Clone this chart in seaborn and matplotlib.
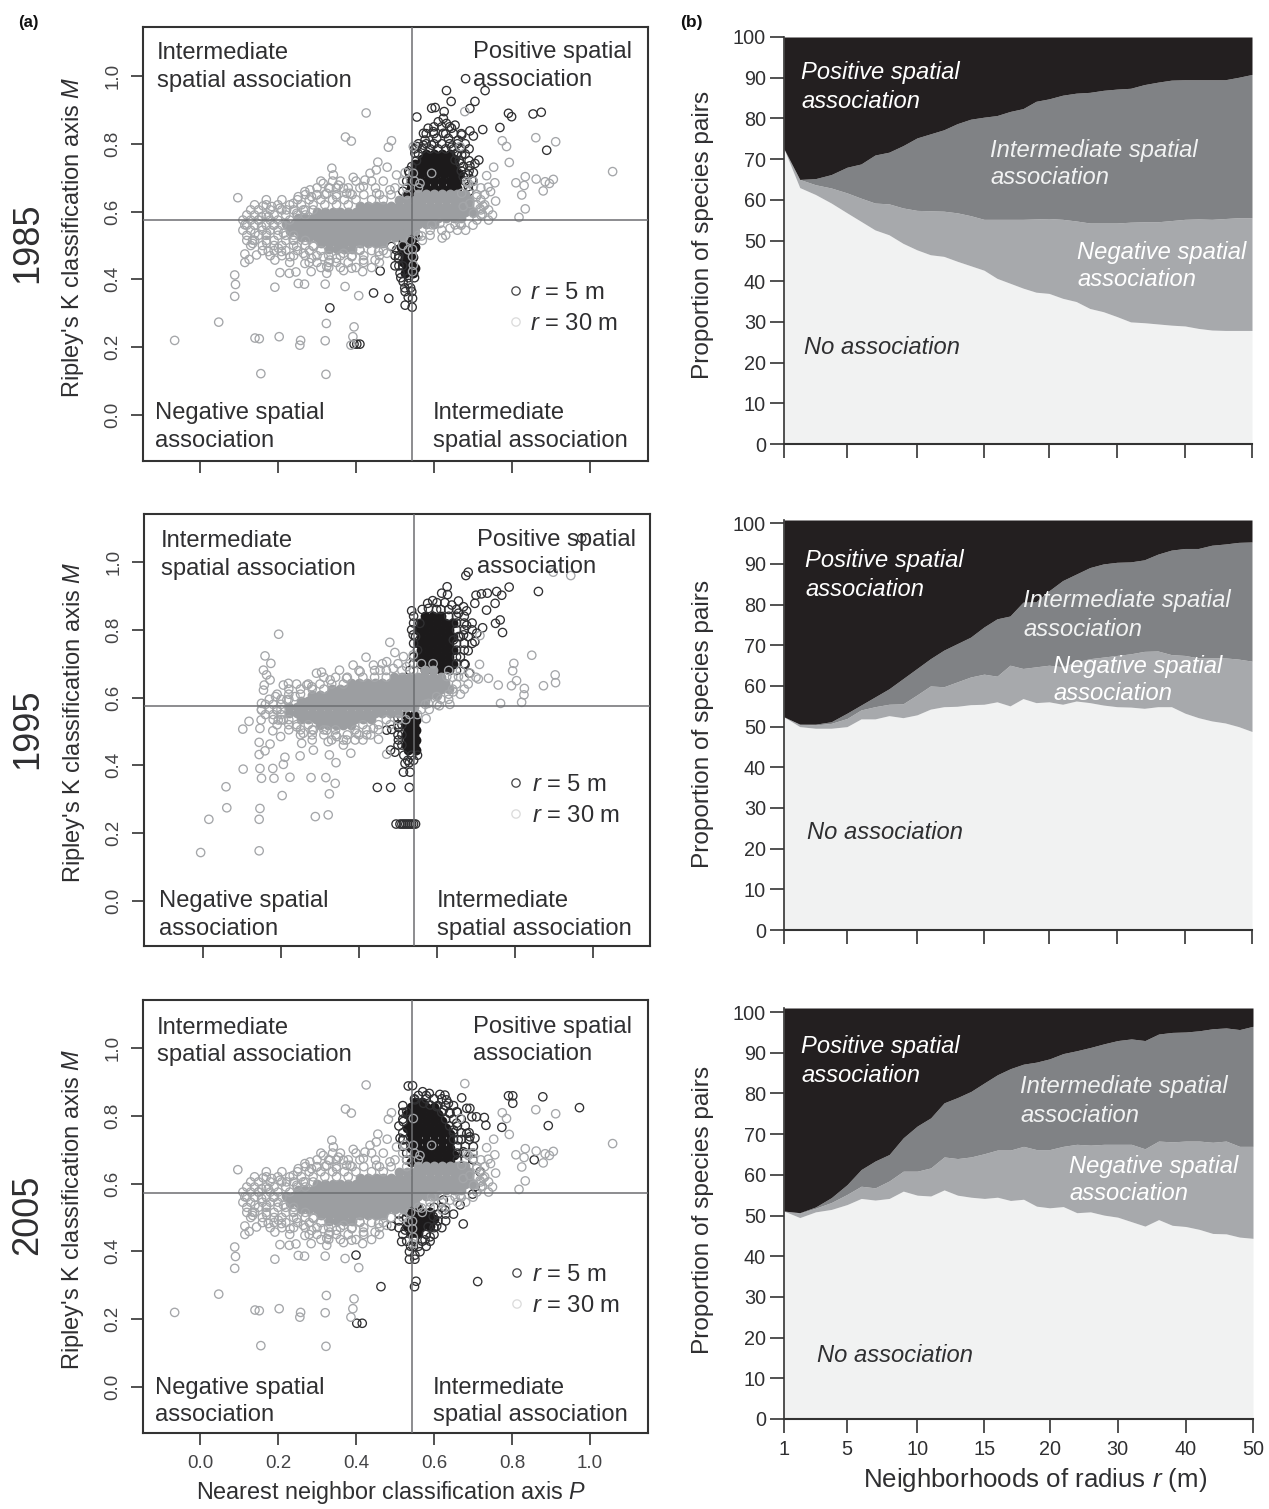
import numpy as np
import pandas as pd
import seaborn as sns
import matplotlib
matplotlib.use("Agg")
import matplotlib.pyplot as plt

# ---------- panel (b): band limits ----------
radius = [1, 2, 3, 4, 5, 6, 7, 8, 9, 10, 11, 12, 13, 14, 15, 16, 17, 18, 19, 20,
          22, 24, 26, 28, 30, 32, 34, 36, 38, 40, 42, 44, 46, 48, 50]
radius_ticks = [1, 5, 10, 15, 20, 30, 40, 50]

none_1985 = [72.5, 63, 61.3, 59.2, 56.8, 54.7, 52.6, 51.4, 49.3, 47.7, 46.5, 46.1, 44.9, 43.8, 42.7, 40.7, 39.5, 38.3, 37.3, 37,
             35.8, 35, 33.3, 32.5, 31.3, 30, 29.8, 29.5, 29.2, 29, 28.4, 28, 27.9, 27.9, 27.9]
neg_1985 = [72.5, 65, 63.7, 62.9, 61.7, 60.4, 59.2, 59, 58, 57.4, 57.3, 57.2, 56.8, 56.1, 55.2, 55.2, 55.2, 55.2, 55.3, 55.4,
            55.2, 54.8, 54.3, 54.3, 54.3, 54.5, 54.6, 54.6, 54.9, 55.2, 55.3, 55.2, 55.4, 55.6, 55.6]
inter_1985 = [72.5, 65, 65.2, 66.2, 68, 68.8, 71, 71.7, 73.3, 75.2, 76.2, 77.2, 78.7, 79.8, 80.3, 80.7, 81.7, 82.4, 84.2, 84.8,
              85.7, 86.2, 86.4, 86.9, 87.2, 87.4, 88.3, 88.9, 89.4, 89.5, 89.5, 89.5, 89.5, 90.1, 90.8]

none_1995 = [52.4, 50, 49.6, 49.6, 50, 51.9, 51.9, 52.7, 52.2, 52.9, 54.3, 54.9, 55, 55.4, 55.5, 56.1, 55.1, 56.9, 55.9, 56.1,
             55.5, 56.3, 55.9, 55.3, 54.9, 54.8, 54.5, 54.9, 54.9, 53.3, 52.2, 51.4, 50.9, 50, 48.8]
neg_1995 = [52.4, 50.6, 50.4, 50.8, 52, 54.1, 54.9, 55.5, 55.6, 57.8, 60, 59.8, 61, 62.2, 62.9, 62.4, 65.1, 64.3, 64.7, 65.1,
            64.7, 65.9, 66.7, 67.1, 67.5, 67.9, 68.5, 68.6, 67.7, 67.5, 66.9, 66.9, 66.9, 66.6, 66.1]
inter_1995 = [52.4, 50.6, 50.6, 51.2, 53.3, 55.3, 57.3, 59.3, 61.8, 64.3, 66.7, 68.8, 70.4, 72, 74.5, 76.5, 77.2, 80.6, 80.7, 83.4,
              85.9, 87.5, 89.1, 90, 90.4, 90.5, 91, 92.4, 93.4, 93.8, 93.8, 94.6, 94.9, 95.3, 95.4]

none_2005 = [51.1, 49.5, 50.9, 51.5, 52.7, 54.2, 53.8, 54.2, 56, 55, 54.8, 56.3, 55, 54.5, 54.2, 54.5, 53.7, 54, 52.3, 51.9,
             52.2, 50.7, 50.9, 50.1, 49.6, 48.5, 47.4, 49, 47.6, 47.3, 46.6, 45.6, 45.5, 44.7, 44.4]
neg_2005 = [51.1, 50.6, 51.8, 53.2, 55.2, 57.2, 56.8, 58.5, 60.9, 60.9, 61.7, 64.4, 64, 64.4, 65.2, 66.1, 66.1, 67, 66.2, 66.2,
            67, 67.5, 67.3, 67.5, 67.5, 67.5, 66.4, 68.3, 68.1, 68.3, 68.3, 68, 68.3, 67, 67]
inter_2005 = [51.1, 50.7, 52.1, 54.4, 57.6, 61.3, 63.4, 65, 69.1, 72, 74, 77.7, 79, 80.5, 82.6, 84.6, 86.1, 87.2, 87.7, 88.5,
              89.8, 90.5, 91.3, 92.2, 93, 93.4, 93, 94.6, 95, 95.1, 95.4, 95.9, 96.1, 95.7, 96.5]

# ---------- panel (a): points that can be told apart, (P, M) ----------
grey_shared = [(.426, .891), (.373, .820), (.388, .808), (.491, .809), (.483, .790), (.456, .746), (.480, .731), (.097, .641),
               (.679, .895), (.775, .809), (.786, .792), (.861, .818), (.912, .806), (.793, .745), (.753, .731), (1.058, .718),
               (.735, .706), (.834, .703), (.810, .685), (.831, .677), (.862, .696), (.885, .688), (.896, .683), (.906, .695),
               (.756, .685), (.739, .672), (.745, .659), (.880, .661), (.825, .649), (.758, .631), (.834, .608), (.724, .593),
               (.818, .583), (.681, .545), (.621, .522), (.568, .528), (.115, .561), (.135, .516), (.135, .506), (.115, .475),
               (.115, .450), (.126, .459), (.145, .472), (.089, .413), (.091, .385), (.089, .350), (.192, .457), (.192, .377),
               (.252, .388), (.268, .386), (.321, .386), (.372, .379), (.407, .352), (.205, .420), (.229, .418), (.246, .422),
               (.285, .423), (.325, .418), (.368, .426), (.389, .433), (.417, .423), (.048, .274), (-.065, .220), (.203, .231),
               (.324, .270), (.395, .260), (.392, .231), (.141, .227), (.152, .225), (.258, .220), (.256, .206), (.321, .219),
               (.387, .206), (.156, .122), (.323, .120),
               (.162, .617), (.184, .615), (.205, .610), (.158, .585), (.150, .575), (.175, .585), (.158, .556), (.188, .560),
               (.171, .536), (.141, .536), (.171, .508), (.175, .482), (.201, .492), (.209, .482), (.231, .467), (.269, .447),
               (.286, .462), (.252, .644), (.269, .659), (.282, .664), (.286, .644), (.316, .683), (.338, .728), (.342, .708),
               (.355, .678), (.333, .669), (.368, .669), (.393, .701), (.376, .654), (.423, .693), (.436, .713), (.452, .723),
               (.419, .674), (.487, .664), (.504, .708), (.526, .715), (.239, .624), (.222, .605), (.299, .649), (.325, .654),
               (.350, .644), (.385, .654), (.453, .654), (.248, .595), (.265, .605), (.248, .497), (.265, .477), (.316, .467),
               (.325, .438), (.333, .457), (.350, .462), (.389, .467), (.419, .457), (.449, .457), (.458, .482), (.479, .477),
               (.410, .487), (.291, .497), (.214, .536), (.239, .516), (.368, .477), (.675, .615), (.692, .624), (.709, .644),
               (.701, .674), (.684, .688), (.667, .565), (.641, .551), (.654, .561), (.718, .609), (.726, .616), (.615, .565),
               (.594, .561), (.701, .595), (.564, .683), (.547, .713), (.594, .713), (.547, .792), (.667, .792), (.688, .683),
               (.671, .654), (.534, .487), (.545, .489), (.545, .467), (.547, .442), (.545, .423)]

grey_1995 = [(.194, .787), (.159, .723), (.174, .701), (.155, .681), (.163, .667), (.172, .652), (.157, .637), (.155, .622),
             (.206, .637), (.186, .603), (.150, .583), (.150, .563), (.149, .534), (.146, .509), (.144, .468), (.172, .463),
             (.118, .530), (.102, .507), (.179, .502), (.199, .485), (.159, .443), (.144, .432), (.210, .424), (.249, .428),
             (.206, .403), (.146, .391), (.103, .389), (.179, .391), (.150, .362), (.182, .362), (.223, .365), (.277, .364),
             (.315, .364), (.339, .347), (.324, .316), (.203, .311), (.059, .337), (.061, .275), (.146, .273), (.144, .241),
             (.015, .241), (.288, .249), (.321, .254), (-.006, .143), (.144, .148), (.324, .431), (.379, .436), (.341, .408),
             (.283, .445), (.253, .465), (.321, .470), (.360, .460), (.450, .477), (.471, .433), (.479, .763), (.492, .733),
             (.843, .725), (.797, .701), (.794, .679), (.709, .698), (.903, .667), (.904, .644), (.873, .635), (.804, .650),
             (.791, .635), (.757, .637), (.732, .657), (.706, .655), (.824, .627), (.823, .608), (.817, .586), (.763, .583),
             (.633, .580), (.606, .576), (.572, .538), (.898, .970), (.943, .960), (.710, .783), (.685, .672), (.304, .675),
             (.350, .681), (.385, .696), (.418, .719), (.437, .696), (.471, .706), (.266, .637), (.219, .642), (.291, .672),
             (.403, .676), (.368, .657), (.326, .652), (.279, .632), (.236, .603), (.215, .593), (.514, .721), (.539, .726),
             (.522, .691), (.488, .686), (.454, .681), (.206, .534), (.240, .514), (.257, .495), (.283, .504), (.317, .504),
             (.343, .485), (.368, .475), (.394, .495), (.420, .490), (.437, .509), (.189, .563), (.193, .534), (.625, .662),
             (.655, .662), (.642, .617), (.599, .603), (.578, .583)]

black_1985 = [(.681, .992), (.632, .957), (.731, .957), (.644, .925), (.705, .925), (.692, .904), (.594, .905), (.603, .907),
              (.556, .879), (.626, .895), (.791, .890), (.799, .880), (.854, .888), (.875, .893), (.692, .838), (.725, .842),
              (.769, .848), (.701, .823), (.889, .781), (.715, .752), (.705, .742), (.692, .735), (.701, .715), (.462, .425),
              (.445, .360), (.484, .344), (.526, .324), (.544, .318), (.333, .316), (.410, .209), (.395, .209), (.402, .209),
              (.573, .831), (.585, .846), (.598, .836), (.611, .865), (.624, .875), (.632, .860), (.645, .846), (.654, .855),
              (.577, .811), (.607, .816), (.624, .831), (.637, .816), (.662, .811), (.671, .826), (.573, .796), (.594, .796),
              (.645, .790), (.658, .772), (.671, .767), (.556, .792), (.551, .772), (.667, .742), (.675, .733), (.688, .708),
              (.697, .693), (.654, .752), (.675, .703), (.688, .674), (.543, .733), (.537, .713), (.509, .462), (.513, .418),
              (.521, .393), (.534, .388), (.526, .364), (.543, .364), (.534, .347), (.545, .344), (.504, .487), (.491, .497)]

black_1995 = [(.680, .970), (.674, .960), (.626, .927), (.612, .908), (.627, .904), (.785, .926), (.860, .913), (.753, .913),
              (.766, .902), (.729, .908), (.714, .906), (.700, .902), (.697, .878), (.749, .878), (.727, .858), (.971, 1.070),
              (.576, .878), (.589, .886), (.535, .856), (.562, .860), (.578, .863), (.599, .860), (.638, .873), (.655, .885),
              (.668, .868), (.676, .856), (.655, .849), (.762, .829), (.750, .819), (.717, .806), (.768, .792), (.676, .813),
              (.668, .785), (.697, .765), (.680, .738), (.702, .790), (.655, .780), (.642, .770), (.672, .698), (.683, .672),
              (.539, .785), (.556, .819), (.514, .380), (.531, .380), (.518, .406), (.529, .408), (.492, .439), (.481, .445),
              (.501, .475), (.471, .504), (.484, .506), (.501, .512), (.447, .335), (.481, .335), (.529, .335), (.495, .227),
              (.505, .227), (.510, .227), (.515, .227), (.520, .227), (.525, .227), (.530, .227), (.535, .227), (.540, .227),
              (.545, .227)]

black_2005 = [(.534, .888), (.545, .889), (.571, .871), (.588, .866), (.615, .863), (.628, .861), (.632, .847), (.637, .837),
              (.671, .853), (.791, .859), (.802, .859), (.802, .837), (.879, .856), (.973, .824), (.684, .822), (.692, .822),
              (.658, .812), (.697, .797), (.709, .797), (.729, .795), (.733, .772), (.774, .766), (.893, .771), (.684, .748),
              (.692, .738), (.705, .734), (.857, .670), (.675, .694), (.701, .709), (.551, .847), (.573, .837), (.590, .832),
              (.607, .827), (.624, .817), (.641, .807), (.530, .812), (.521, .783), (.513, .734), (.521, .729), (.658, .778),
              (.650, .758), (.662, .729), (.718, .635), (.705, .591), (.699, .569), (.675, .481), (.667, .537), (.628, .522),
              (.607, .475), (.624, .552), (.491, .475), (.517, .429), (.537, .399), (.564, .399), (.537, .377), (.551, .377),
              (.551, .389), (.590, .443), (.577, .434), (.547, .414), (.400, .389), (.554, .312), (.550, .296), (.712, .311),
              (.464, .296), (.402, .188), (.416, .188), (.530, .498), (.598, .503), (.585, .473), (.526, .463)]

# busy fringes of open circles, listed row by row: M -> P values
grey_rings_shared = {
    .690: [.31, .34, .36, .40, .44, .47, .52, .55, .70],
    .670: [.30, .33, .35, .38, .41, .45, .50, .53, .56, .72],
    .650: [.27, .30, .32, .35, .39, .42, .46, .49, .53, .71, .73],
    .635: [.17, .21, .25, .28, .31, .34, .37, .40, .44, .47, .72],
    .620: [.14, .17, .20, .23, .26, .29, .32, .35, .38, .73, .71],
    .605: [.13, .15, .18, .21, .24, .27, .29, .72, .74],
    .590: [.12, .14, .17, .19, .22, .25, .27, .72, .75],
    .575: [.11, .13, .15, .18, .20, .23, .71, .74],
    .560: [.12, .14, .17, .19, .21, .67, .70],
    .545: [.11, .13, .16, .18, .20, .59, .62, .66],
    .530: [.12, .15, .17, .20, .22, .24, .56, .59, .63],
    .515: [.12, .14, .17, .19, .22, .24, .27, .54, .57],
    .500: [.13, .16, .19, .21, .24, .27, .29, .49, .52],
    .485: [.16, .19, .22, .25, .28, .31, .41, .44, .47],
    .470: [.18, .21, .24, .27, .30, .33, .36, .39, .42, .46],
    .450: [.23, .28, .30, .33, .35, .38, .42, .46],
    .435: [.31, .33, .36, .40, .44],
}
grey_rings_1995 = {
    .700: [.46, .50, .53, .56, .59],
    .680: [.40, .44, .47, .51, .54, .63, .66],
    .660: [.31, .34, .37, .41, .44, .47, .64, .67, .70],
    .640: [.24, .27, .30, .33, .36, .65, .68],
    .625: [.22, .25, .28, .31, .64, .67],
    .610: [.19, .22, .25, .63, .66],
    .595: [.17, .20, .22, .61, .63],
    .580: [.16, .18, .20, .57, .60],
    .565: [.15, .17, .19, .20, .56, .58],
    .550: [.16, .18, .20, .53, .55],
    .535: [.18, .20, .22, .47, .50, .52],
    .520: [.19, .22, .24, .27, .41, .45, .48],
    .505: [.22, .25, .28, .31, .34, .39, .42, .45],
    .490: [.25, .28, .31, .34, .37, .40, .43],
    .475: [.28, .33, .36, .39, .41],
}
black_rings_1985 = {
    .850: [.60, .62, .64], .830: [.58, .60, .63, .65, .67], .800: [.56, .58, .60, .62, .64, .66, .68],
    .785: [.55, .57, .59, .61, .63, .65, .67, .69], .770: [.56, .66, .68], .750: [.555, .665, .69], .720: [.535, .67, .69],
    .690: [.53, .68, .70], .660: [.52, .69], .470: [.50, .51], .440: [.50, .51, .52], .405: [.515, .535, .55], .375: [.525, .54],
}
black_rings_1995 = {
    .880: [.60, .62], .860: [.61, .63, .65], .840: [.54, .63, .65, .67], .820: [.54, .65, .67, .69], .800: [.535, .65, .67, .69],
    .780: [.545, .66, .68], .760: [.54, .65, .67, .69], .740: [.55, .65, .67], .720: [.54, .65, .66], .700: [.54, .65, .67],
    .680: [.53, .65], .540: [.50, .51], .520: [.50, .51], .490: [.50, .51], .460: [.50, .51], .430: [.515, .535, .55], .415: [.525, .54],
}
black_rings_2005 = {
    .860: [.56, .58], .850: [.55, .58, .60, .62], .830: [.52, .61, .63, .65], .810: [.52, .62, .64, .66], .790: [.52, .63, .65, .67],
    .770: [.51, .64, .66, .68], .750: [.52, .65, .67, .69], .730: [.52, .65, .67, .69], .710: [.52, .66, .68], .690: [.53, .66, .68, .70],
    .670: [.53, .66, .68, .70], .530: [.51, .60, .62], .510: [.51, .61, .63, .65], .490: [.51, .61, .63], .470: [.51, .60, .62],
    .450: [.52, .58, .60], .430: [.53, .55, .57, .59], .415: [.54, .56, .58],
}

# overplotted cores, listed row by row: M -> P values
grey_core_shared = {
    .652: [.56, .58, .60, .62, .64, .66, .68],
    .634: [.51, .53, .55, .57, .59, .61, .63, .65, .67, .69],
    .616: [.41, .43, .45, .47, .49, .51, .53, .55, .57, .59, .61, .63, .65, .67, .69],
    .598: [.30, .32, .34, .36, .38, .40, .42, .44, .46, .48, .50, .52, .54, .56, .58, .60, .62, .64, .66, .68, .70],
    .580: [.25, .27, .29, .31, .33, .35, .37, .39, .41, .43, .45, .47, .49, .51, .53, .55, .57, .59, .61, .63, .65, .67],
    .562: [.22, .24, .26, .28, .30, .32, .34, .36, .38, .40, .42, .44, .46, .48, .50, .52, .54, .56, .58, .60],
    .544: [.23, .25, .27, .29, .31, .33, .35, .37, .39, .41, .43, .45, .47, .49, .51, .53, .55],
    .526: [.26, .28, .30, .32, .34, .36, .38, .40, .42, .44, .46, .48, .50, .52],
    .508: [.31, .33, .35, .37, .39, .41, .43, .45, .47],
    .490: [.33, .35, .37, .39],
}
grey_core_1995 = {
    .680: [.57, .59],
    .662: [.49, .51, .53, .55, .57, .59, .61],
    .644: [.38, .40, .42, .44, .46, .48, .50, .52, .54, .56, .58, .60, .62],
    .626: [.33, .35, .37, .39, .41, .43, .45, .47, .49, .51, .53, .55, .57, .59, .61, .63],
    .608: [.28, .30, .32, .34, .36, .38, .40, .42, .44, .46, .48, .50, .52, .54, .56, .58, .60],
    .590: [.25, .27, .29, .31, .33, .35, .37, .39, .41, .43, .45, .47, .49, .51, .53, .55, .57],
    .572: [.22, .24, .26, .28, .30, .32, .34, .36, .38, .40, .42, .44, .46, .48, .50, .52, .54],
    .554: [.22, .24, .26, .28, .30, .32, .34, .36, .38, .40, .42, .44, .46, .48, .50],
    .536: [.25, .27, .29, .31, .33, .35, .37, .39, .41, .43],
    .518: [.30, .32, .34, .36, .38],
}
black_core_1985 = {
    .770: [.58, .60, .62, .64], .755: [.57, .59, .61, .63, .65], .740: [.55, .57, .59, .61, .63, .65],
    .725: [.55, .57, .59, .61, .63, .65], .710: [.545, .565, .585, .605, .625, .645, .665],
    .690: [.54, .56, .58, .60, .62, .64, .66], .670: [.54, .56, .58, .60, .62, .64, .66],
    .650: [.53, .55, .57, .59, .61, .63, .65],
    .540: [.52, .54], .525: [.515, .535, .55], .510: [.52, .54], .495: [.515, .535, .55], .480: [.52, .54],
    .465: [.525, .545], .450: [.52, .54], .435: [.53, .55], .420: [.525, .545],
}
black_core_1995 = {
    .840: [.57, .59, .61], .820: [.56, .58, .60, .62, .64], .800: [.55, .57, .59, .61, .63],
    .780: [.56, .58, .60, .62, .64], .760: [.55, .57, .59, .61, .63], .740: [.56, .58, .60, .62, .64],
    .720: [.55, .57, .59, .61, .63], .700: [.56, .58, .60, .62, .64], .680: [.57, .59, .61, .63],
    .550: [.52, .54], .535: [.525, .545], .520: [.52, .54], .505: [.525, .545], .490: [.52, .54],
    .475: [.525, .545], .460: [.52, .54], .445: [.525, .545],
}
black_core_2005 = {
    .840: [.55, .57], .825: [.54, .56, .58, .60], .805: [.53, .55, .57, .59, .61], .785: [.54, .56, .58, .60, .62],
    .765: [.53, .55, .57, .59, .61, .63], .745: [.54, .56, .58, .60, .62, .64], .725: [.54, .56, .58, .60, .62, .64],
    .705: [.54, .56, .58, .60, .62, .64], .685: [.55, .57, .59, .61, .63, .65], .665: [.54, .56, .58, .60, .62, .64],
    .530: [.54, .56], .515: [.53, .55, .57, .59], .495: [.54, .56, .58, .60], .475: [.53, .55, .57, .59],
    .455: [.54, .56],
}

panel_years = ["1985", "1995", "2005"]
p_ticks = [0.0, 0.2, 0.4, 0.6, 0.8, 1.0]
m_ticks = [0.0, 0.2, 0.4, 0.6, 0.8, 1.0]
share_ticks = [0, 10, 20, 30, 40, 50, 60, 70, 80, 90, 100]


def rows_to_frame(rows):
    return pd.DataFrame([(p, m) for m, ps in rows.items() for p in ps], columns=["P", "M"])


def rings_frame(pts, rows):
    return pd.concat([pd.DataFrame(pts, columns=["P", "M"]), rows_to_frame(rows)])


W, H = 1269, 1509
GREY_PT, BLACK_PT = "#a4a6a9", "#303032"
TXT = "#2f2f31"
C_POS, C_INT, C_NEG, C_NONE = "#231f20", "#808285", "#a7a9ac", "#f1f2f2"
RING = 36

sns.set_style("white")
plt.rcParams["font.family"] = ["Liberation Sans", "DejaVu Sans"]
plt.rcParams["mathtext.fontset"] = "custom"
plt.rcParams["mathtext.rm"] = "Liberation Sans"
plt.rcParams["mathtext.it"] = "Liberation Sans:italic"

fig = plt.figure(figsize=(W / 100, H / 100), dpi=100, facecolor="white")


def box_axes(x0, y0, x1, y1):
    return fig.add_axes([x0 / W, 1 - y1 / H, (x1 - x0) / W, (y1 - y0) / H])


def label(x, y, s, **kw):
    kw.setdefault("va", "center")
    kw.setdefault("color", TXT)
    kw.setdefault("fontsize", 17.15)
    if "rotation" not in kw:
        y = y + 2
    fig.text(x / W, 1 - y / H, s, **kw)


# scatter panels: left, right, top, bottom, pixel of P=0, pixel of M=0
scatter_boxes = [(143, 648, 27, 461, 200, 415), (144, 650, 514, 946, 203, 901), (143, 648, 1000, 1433, 200, 1387)]
split_lines = [(0.544, 0.575), (0.541, 0.575), (0.543, 0.572)]
scatter_sets = [
    (black_1985, black_rings_1985, black_core_1985, grey_shared, grey_rings_shared, grey_core_shared),
    (black_1995, black_rings_1995, black_core_1995, grey_1995, grey_rings_1995, grey_core_1995),
    (black_2005, black_rings_2005, black_core_2005, grey_shared, grey_rings_shared, grey_core_shared),
]
region_text = [
    [(157, 51, "Intermediate"), (157, 79, "spatial association"), (473, 50, "Positive spatial"), (473, 78, "association"),
     (155, 411, "Negative spatial"), (155, 439, "association"), (433, 411, "Intermediate"), (433, 439, "spatial association")],
    [(161, 539, "Intermediate"), (161, 567, "spatial association"), (477, 538, "Positive spatial"), (477, 565, "association"),
     (159, 899, "Negative spatial"), (159, 927, "association"), (437, 899, "Intermediate"), (437, 927, "spatial association")],
    [(157, 1026, "Intermediate"), (157, 1053, "spatial association"), (473, 1025, "Positive spatial"), (473, 1052, "association"),
     (155, 1386, "Negative spatial"), (155, 1413, "association"), (433, 1386, "Intermediate"), (433, 1413, "spatial association")],
]
legend_y = [(291, 322), (783, 814), (1273, 1304)]
year_y = [243, 729, 1215]
ylabel_x = [73, 74, 73]
ylabel_y = [237, 722, 1209]

for i, (x0, x1, y0, y1, px0, py0) in enumerate(scatter_boxes):
    ax = box_axes(x0, y0, x1, y1)
    black, black_rows, black_core, grey, grey_rows, grey_core = scatter_sets[i]
    sns.scatterplot(data=rows_to_frame(black_core), x="P", y="M", ax=ax, color="#1c1a1b", s=50, linewidth=0, legend=False, zorder=2)
    sns.scatterplot(data=rings_frame(black, black_rows), x="P", y="M", ax=ax, s=RING, fc="none", ec=BLACK_PT, linewidth=0.95, legend=False, zorder=2)
    sns.scatterplot(data=rows_to_frame(grey_core), x="P", y="M", ax=ax, color="#9c9ea1", s=50, linewidth=0, legend=False, zorder=3)
    sns.scatterplot(data=rings_frame(grey, grey_rows), x="P", y="M", ax=ax, s=RING, fc="none", ec=GREY_PT, linewidth=0.95, legend=False, zorder=3)
    ax.set_xlim((x0 - px0) / 390, (x1 - px0) / 390)
    ax.set_ylim((py0 - y1) / 339, (py0 - y0) / 339)
    ax.axvline(split_lines[i][0], color="#6d6e71", lw=1.1, zorder=4)
    ax.axhline(split_lines[i][1], color="#6d6e71", lw=1.1, zorder=4)
    ax.set_xticks(p_ticks)
    ax.set_yticks(m_ticks)
    ax.set_xticklabels([f"{v:.1f}" for v in p_ticks] if i == 2 else [])
    ax.set_yticklabels([f"{v:.1f}" for v in m_ticks], rotation=90, va="center")
    ax.tick_params(length=8.5, width=1.2, color="#333333", labelsize=13.5, labelcolor="#444446", pad=7, left=True, bottom=True)
    ax.set_xlabel("")
    ax.set_ylabel("")
    for s in ax.spines.values():
        s.set_color("#333333")
        s.set_linewidth(1.5)
    for tx, ty, s in region_text[i]:
        label(tx, ty, s)
    # legend of the panel
    ly = legend_y[i]
    lx = 516 + (1 if i == 2 else 0)
    for yy, col, txt in [(ly[0], "#4a4a4c", "$r$ = 5 m"), (ly[1], "#dcdcdc", "$r$ = 30 m")]:
        ax.scatter([(lx - x0) / (x1 - x0)], [1 - (yy - y0) / (y1 - y0)], transform=ax.transAxes, s=RING,
                   facecolors="none", edgecolors=col, linewidths=0.95, zorder=5, clip_on=False)
        label(530 + (2 if i else 0), yy, txt)
    label(28, year_y[i], panel_years[i], rotation=90, ha="center", va="center", fontsize=26)
    label(ylabel_x[i], ylabel_y[i], "Ripley's K classification axis $M$", rotation=90, ha="center", fontsize=17)

label(391, 1491, "Nearest neighbor classification axis $P$", ha="center", fontsize=16.8)
label(18, 20, "(a)", fontweight="bold", fontsize=12, color="#111111")
label(680, 20, "(b)", fontweight="bold", fontsize=12.5, color="#111111")

# stacked panels: spacing of the radius ticks along the axis
axis_pos = [0, 63, 133, 200, 265, 333, 401, 468]


def to_axis(r):
    return np.interp(r, radius_ticks, axis_pos)


def from_axis(p):
    return np.interp(p, axis_pos, radius_ticks)


stack_boxes = [(784, 1252, 37, 444, 100), (784, 1252, 520, 930, 100.8), (784, 1253, 1008, 1419, 101)]
stack_sets = [(none_1985, neg_1985, inter_1985), (none_1995, neg_1995, inter_1995), (none_2005, neg_2005, inter_2005)]
stack_text = [
    [(801, 71, "Positive spatial", "w"), (801, 99, "association", "w"), (990, 148, "Intermediate spatial", "#f1f2f2"),
     (990, 176, "association", "#f1f2f2"), (1077, 250, "Negative spatial", "w"), (1077, 278, "association", "w"),
     (804, 345, "No association", TXT)],
    [(805, 559, "Positive spatial", "w"), (805, 587, "association", "w"), (1023, 599, "Intermediate spatial", "#f1f2f2"),
     (1023, 627, "association", "#f1f2f2"), (1053, 665, "Negative spatial", "w"), (1053, 692, "association", "w"),
     (807, 830, "No association", TXT)],
    [(801, 1045, "Positive spatial", "w"), (801, 1073, "association", "w"), (1020, 1085, "Intermediate spatial", "#f1f2f2"),
     (1020, 1113, "association", "#f1f2f2"), (1069, 1165, "Negative spatial", "w"), (1069, 1192, "association", "w"),
     (817, 1354, "No association", TXT)],
]
share_label_y = [235, 724, 1210]

for i, (x0, x1, y0, y1, top) in enumerate(stack_boxes):
    ax = box_axes(x0, y0, x1, y1)
    none_v, neg_v, inter_v = stack_sets[i]
    ax.set_xscale("function", functions=(to_axis, from_axis))
    ax.fill_between(radius, 0, none_v, color=C_NONE, lw=0)
    ax.fill_between(radius, none_v, neg_v, color=C_NEG, lw=0)
    ax.fill_between(radius, neg_v, inter_v, color=C_INT, lw=0)
    ax.fill_between(radius, inter_v, top, color=C_POS, lw=0)
    ax.set_xlim(1, 50)
    ax.set_ylim(0, top)
    ax.set_xticks(radius_ticks)
    ax.minorticks_off()
    ax.set_yticks(share_ticks)
    ax.set_xticklabels([str(v) for v in radius_ticks] if i == 2 else [])
    ax.tick_params(length=10, width=1.2, color="#333333", labelsize=14.3, labelcolor=TXT, pad=3, left=True, bottom=True)
    ax.tick_params(axis="x", pad=5)
    sns.despine(ax=ax, top=True, right=True)
    ax.spines["left"].set_color("#333333")
    ax.spines["bottom"].set_color("#333333")
    ax.spines["left"].set_linewidth(1.2)
    ax.spines["bottom"].set_linewidth(1.5)
    for tx, ty, s, col in stack_text[i]:
        label(tx, ty, s, style="italic", color=col)
    label(703, share_label_y[i], "Proportion of species pairs", rotation=90, ha="center", fontsize=17.6)

label(1035, 1478, "Neighborhoods of radius $r$ (m)", ha="center", fontsize=18.6)

fig.savefig("out.png", dpi=100)
